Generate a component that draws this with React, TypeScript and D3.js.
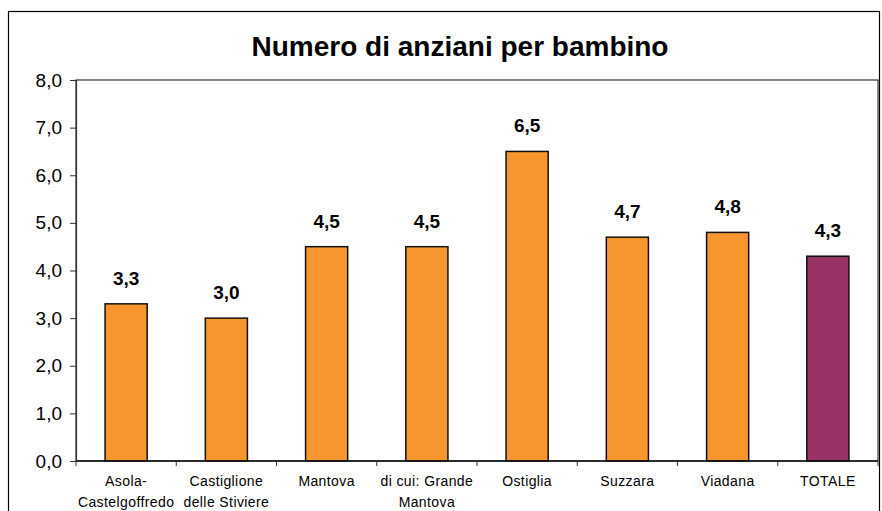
import React, { useEffect, useRef } from "react";
import { select, scaleBand, scaleLinear, axisLeft, range } from "d3";

const width = 882;
const height = 511;
const margin = { top: 80, right: 4, bottom: 50, left: 76 };

const categories = [
  "Asola-\nCastelgoffredo",
  "Castiglione\ndelle Stiviere",
  "Mantova",
  "di cui: Grande\nMantova",
  "Ostiglia",
  "Suzzara",
  "Viadana",
  "TOTALE",
];
const values = [3.3, 3.0, 4.5, 4.5, 6.5, 4.7, 4.8, 4.3];
const yTicks = [0, 1, 2, 3, 4, 5, 6, 7, 8];

const fmt = (v: number) => v.toFixed(1).replace(".", ",");
const font = "'Liberation Sans', Arial, sans-serif";

const App = () => {
  const ref = useRef<SVGSVGElement>(null);

  useEffect(() => {
    const svg = select(ref.current);
    svg.selectAll("*").remove();

    const x = scaleBand<number>()
      .domain(range(categories.length))
      .range([margin.left, width - margin.right])
      .paddingInner(0.58)
      .paddingOuter(0.29);

    const y = scaleLinear()
      .domain([0, 8])
      .range([height - margin.bottom, margin.top]);

    // outer frame
    svg
      .append("rect")
      .attr("x", 8.5)
      .attr("y", 11.5)
      .attr("width", width - 11)
      .attr("height", height + 10)
      .attr("fill", "white")
      .attr("stroke", "#000")
      .attr("stroke-width", 1.2);

    // title
    svg
      .append("text")
      .attr("x", 460)
      .attr("y", 56)
      .attr("text-anchor", "middle")
      .attr("font-family", font)
      .attr("font-weight", "bold")
      .attr("font-size", 28)
      .text("Numero di anziani per bambino");

    // plot area frame
    svg
      .append("rect")
      .attr("x", margin.left)
      .attr("y", margin.top)
      .attr("width", width - margin.right - margin.left)
      .attr("height", height - margin.bottom - margin.top)
      .attr("fill", "none")
      .attr("stroke", "#333")
      .attr("stroke-width", 1.2);

    // bars
    svg
      .append("g")
      .selectAll("rect")
      .data(values)
      .join("rect")
      .attr("x", (_, i) => x(i)!)
      .attr("y", (d) => y(d))
      .attr("width", x.bandwidth())
      .attr("height", (d) => y(0) - y(d))
      .attr("fill", (_, i) => (i === values.length - 1 ? "#993366" : "#F7962F"))
      .attr("stroke", "#111")
      .attr("stroke-width", 1.5);

    // value labels
    svg
      .append("g")
      .selectAll("text")
      .data(values)
      .join("text")
      .attr("x", (_, i) => x(i)! + x.bandwidth() / 2)
      .attr("y", (d) => y(d) - 19)
      .attr("text-anchor", "middle")
      .attr("font-family", font)
      .attr("font-weight", "bold")
      .attr("font-size", 19)
      .text((d) => fmt(d));

    // y axis
    const gy = svg
      .append("g")
      .attr("transform", `translate(${margin.left},0)`)
      .call(
        axisLeft(y)
          .tickValues(yTicks)
          .tickSize(6)
          .tickPadding(8)
          .tickFormat((d) => fmt(d as number))
      );
    gy.select(".domain").attr("stroke", "#333").attr("stroke-width", 1.2);
    gy.selectAll(".tick line").attr("stroke", "#333");
    gy.selectAll(".tick text")
      .attr("font-family", font)
      .attr("font-size", 19)
      .attr("fill", "#000");

    // x axis baseline and category separators
    const y0 = y(0);
    const gx = svg.append("g").attr("transform", `translate(0,${y0})`);
    gx.append("line")
      .attr("x1", margin.left)
      .attr("x2", width - margin.right)
      .attr("stroke", "#111")
      .attr("stroke-width", 1.5);
    const step = x.step();
    gx.selectAll("line.tk")
      .data(range(categories.length + 1))
      .join("line")
      .attr("class", "tk")
      .attr("x1", (i) => margin.left + i * step)
      .attr("x2", (i) => margin.left + i * step)
      .attr("y1", 0)
      .attr("y2", 5)
      .attr("stroke", "#333");

    // category labels (two lines where needed)
    gx.selectAll("text")
      .data(categories)
      .join("text")
      .attr("text-anchor", "middle")
      .attr("font-family", font)
      .attr("font-size", 14)
      .attr("letter-spacing", 0.4)
      .attr("fill", "#000")
      .each(function (d, i) {
        const t = select(this);
        d.split("\n").forEach((line, k) => {
          t.append("tspan")
            .attr("x", x(i)! + x.bandwidth() / 2)
            .attr("y", 25 + k * 21)
            .text(line);
        });
      });
  }, []);

  return (
    <svg
      ref={ref}
      width={width}
      height={height}
      style={{ display: "block", position: "absolute", left: 0, top: 0 }}
    />
  );
};

export default App;
